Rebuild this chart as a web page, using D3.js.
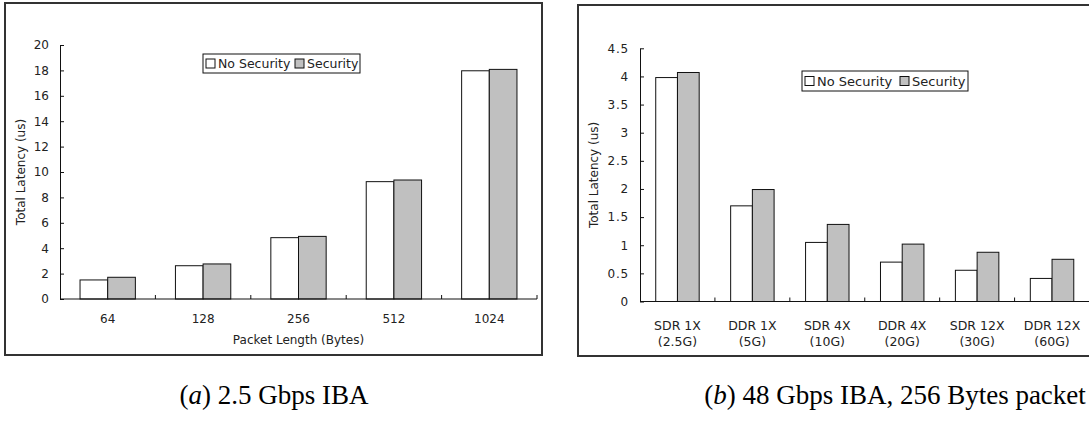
<!DOCTYPE html>
<html>
<head>
<meta charset="utf-8">
<script src="https://cdn.jsdelivr.net/npm/d3@7"></script>
<style>
  body { margin: 0; background: #fff; }
  svg text { font-family: "DejaVu Sans", sans-serif; fill: #222; }
  svg text.caption { font-family: "Liberation Serif", serif; fill: #000; }
</style>
</head>
<body>
<svg id="fig" width="1089" height="429"></svg>
<script>
// chart (a): 2.5 Gbps IBA
const lenCats = ["64", "128", "256", "512", "1024"];
const lenNoSec = [1.5, 2.62, 4.83, 9.24, 17.97];
const lenSec = [1.71, 2.76, 4.93, 9.37, 18.08];
const lenTicks = [0, 2, 4, 6, 8, 10, 12, 14, 16, 18, 20];

// chart (b): 48 Gbps IBA, 256 Bytes packet
const rateCats = [["SDR 1X", "(2.5G)"], ["DDR 1X", "(5G)"], ["SDR 4X", "(10G)"],
                  ["DDR 4X", "(20G)"], ["SDR 12X", "(30G)"], ["DDR 12X", "(60G)"]];
const rateNoSec = [3.98, 1.70, 1.05, 0.70, 0.555, 0.41];
const rateSec = [4.07, 1.99, 1.37, 1.02, 0.875, 0.75];
const rateTicks = [0, 0.5, 1, 1.5, 2, 2.5, 3, 3.5, 4, 4.5];

const seriesNames = ["No Security", "Security"];
const seriesFill = ["#ffffff", "#c0c0c0"];

const svg = d3.select("#fig");

function drawPanel(p) {
    const g = svg.append("g");

    g.append("rect")
        .attr("x", p.box[0]).attr("y", p.box[1])
        .attr("width", p.box[2]).attr("height", p.box[3])
        .attr("fill", "none").attr("stroke", "#333").attr("stroke-width", 2);

    const keys = p.cats.map((c, i) => i);
    const x = d3.scaleBand().domain(keys).range([p.left, p.right]);
    const bw = x.bandwidth();
    const x1 = d3.scaleBand().domain([0, 1]).range([bw * 0.21, bw * 0.79]);
    const y = d3.scaleLinear().domain([0, p.ymax]).range([p.bottom, p.top]);

    // bars
    const grp = g.selectAll(".grp")
        .data(keys)
        .enter()
        .append("g")
        .attr("transform", d => `translate(${x(d)},0)`);

    grp.selectAll("rect")
        .data(d => [p.a[d], p.b[d]])
        .enter()
        .append("rect")
        .attr("x", (d, i) => x1(i))
        .attr("y", d => y(d))
        .attr("width", x1.bandwidth())
        .attr("height", d => p.bottom - y(d))
        .attr("fill", (d, i) => seriesFill[i])
        .attr("stroke", "#111")
        .attr("stroke-width", 1);

    // y axis, ticks pointing inward
    const ya = g.append("g")
        .attr("transform", `translate(${p.left},0)`)
        .call(d3.axisLeft(y).tickValues(p.ticks).tickSizeInner(-4).tickSizeOuter(0).tickPadding(11)
            .tickFormat(d3.format("~g")));
    ya.select(".domain").attr("stroke", "#111");
    ya.selectAll(".tick line").attr("stroke", "#111");
    ya.selectAll("text").attr("font-size", 12).attr("letter-spacing", p.tickSpacing)
        .attr("fill", "#222").attr("font-family", null);

    // x axis: line + boundary ticks
    g.append("line")
        .attr("x1", p.left).attr("x2", p.right)
        .attr("y1", p.bottom).attr("y2", p.bottom)
        .attr("stroke", "#111");
    g.selectAll(".xt")
        .data(keys.slice(1).map(k => x(k)).concat([p.right]))
        .enter()
        .append("line")
        .attr("x1", d => d).attr("x2", d => d)
        .attr("y1", p.bottom).attr("y2", p.bottom - 4)
        .attr("stroke", "#111");

    const lab = g.selectAll(".xl")
        .data(p.cats)
        .enter()
        .append("text")
        .attr("x", (d, i) => x(i) + bw / 2)
        .attr("y", p.bottom + p.labOff)
        .attr("text-anchor", "middle")
        .attr("font-size", p.labSize);
    lab.each(function (d) {
        const lines = Array.isArray(d) ? d : [d];
        d3.select(this).selectAll("tspan")
            .data(lines)
            .enter()
            .append("tspan")
            .attr("x", d3.select(this).attr("x"))
            .attr("dy", (t, j) => j === 0 ? 0 : 16.5)
            .text(t => t);
    });

    if (p.xTitle) {
        g.append("text")
            .attr("x", (p.left + p.right) / 2)
            .attr("y", p.xTitleY)
            .attr("text-anchor", "middle")
            .attr("font-size", 12)
            .text(p.xTitle);
    }

    g.append("text")
        .attr("transform", `translate(${p.yTitleX},${(p.top + p.bottom) / 2}) rotate(-90)`)
        .attr("text-anchor", "middle")
        .attr("font-size", 12)
        .text("Total Latency (us)");

    // legend
    const L = p.legend;
    const lg = g.append("g").attr("transform", `translate(${L.x},${L.y})`);
    lg.append("rect")
        .attr("width", L.w).attr("height", L.h)
        .attr("fill", "#fff").attr("stroke", "#111");
    const item = lg.selectAll(".li")
        .data(seriesNames)
        .enter()
        .append("g")
        .attr("transform", (d, i) => `translate(${i === 0 ? 3 : L.second},0)`);
    item.append("rect")
        .attr("x", 0).attr("y", L.h / 2 - 4.5)
        .attr("width", 9).attr("height", 9)
        .attr("fill", (d, i) => seriesFill[i])
        .attr("stroke", "#111");
    item.append("text")
        .attr("x", 12).attr("y", L.h / 2 + L.size * 0.36)
        .attr("font-size", L.size)
        .text(d => d);
}

drawPanel({
    box: [5, 3, 537, 352],
    cats: lenCats, a: lenNoSec, b: lenSec, ticks: lenTicks, ymax: 20,
    left: 60, right: 537, top: 45, bottom: 299,
    labOff: 24, labSize: 12, tickSpacing: 0,
    xTitle: "Packet Length (Bytes)", xTitleY: 344,
    yTitleX: 25,
    legend: { x: 203, y: 54, w: 157, h: 19, second: 92, size: 12.5 }
});

drawPanel({
    box: [578, 5, 530, 351],
    cats: rateCats, a: rateNoSec, b: rateSec, ticks: rateTicks, ymax: 4.5,
    left: 640, right: 1089.5, top: 48.3, bottom: 301.5,
    labOff: 28, labSize: 12.5, tickSpacing: 0.8,
    xTitle: null,
    yTitleX: 598,
    legend: { x: 802, y: 71, w: 166, h: 20, second: 98, size: 13 }
});

// captions
svg.append("text").attr("class", "caption")
    .attr("x", 274).attr("y", 404)
    .attr("text-anchor", "middle")
    .attr("font-size", 27)
    .html('(<tspan font-style="italic">a</tspan>) 2.5 Gbps IBA');

svg.append("text").attr("class", "caption")
    .attr("x", 895).attr("y", 404)
    .attr("text-anchor", "middle")
    .attr("font-size", 27)
    .html('(<tspan font-style="italic">b</tspan>) 48 Gbps IBA, 256 Bytes packet');
</script>
</body>
</html>
